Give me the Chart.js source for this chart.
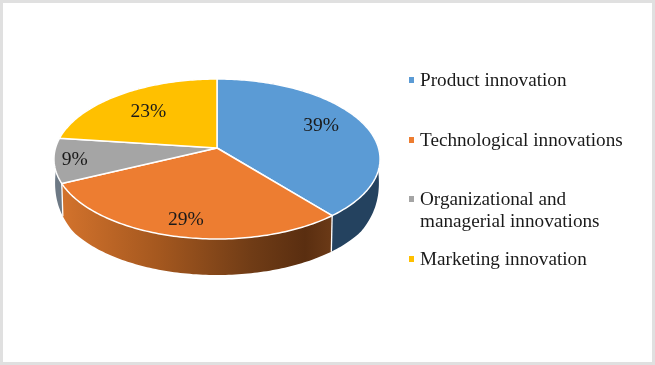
<!DOCTYPE html>
<html>
<head>
<meta charset="utf-8">
<script src="https://cdn.jsdelivr.net/npm/chart.js@4"></script>
<style>
  html, body { margin: 0; padding: 0; background: #fff; }
  canvas { display: block; filter: blur(0.5px); }
</style>
</head>
<body>
<canvas id="chart" width="655" height="365"></canvas>
<script>
const categories = ['Product innovation', 'Technological innovations', 'Organizational and managerial innovations', 'Marketing innovation'];
const legendLines = [['Product innovation'], ['Technological innovations'], ['Organizational and', 'managerial innovations'], ['Marketing innovation']];
const shares = [39, 29, 9, 23];
const sliceColors = ['#5b9bd5', '#ed7d31', '#a5a5a5', '#ffc000'];

// baseline of the first text line of each legend entry
const legendBaselines = [86, 146, 205, 265];
// label shift from the default spot inside the slice
const labelNudge = [[1, -4], [-4, 13], [-29, 3], [1, 2]];

// perspective of the tilted disc: apex, x radius, y terms, foreshortening
const CX = 217, CY = 148, AX = 161.5, AY = 58.14, TILT = -0.1375;

function project(angle, r) {
  const u = Math.cos(angle) * r, v = Math.sin(angle) * r;
  const w = 1 + TILT * v;
  return { x: CX + AX * u / w, y: (AY * v + CY) / w };
}

function dropPoint(p, angle) {
  // side wall gets shallower towards the left and right ends
  const v = Math.max(0, Math.sin(angle));
  const d = Math.min(36, 12 + 32 * Math.sqrt(v));
  return { x: CX + (p.x - CX) * 0.993, y: p.y + d };
}

function sideFill(ctx, i) {
  if (i === 1) {
    const g = ctx.createLinearGradient(63, 0, 332, 0);
    g.addColorStop(0, '#d2722c');
    g.addColorStop(0.35, '#a5581f');
    g.addColorStop(0.7, '#703c16');
    g.addColorStop(0.9, '#5a2e10');
    g.addColorStop(1, '#6b3a17');
    return g;
  }
  if (i === 0) return '#24425f';
  if (i === 2) return '#6d7985';
  return '#a88000';
}

const pie3d = {
  id: 'pie3d',
  beforeDraw(chart) {
    const ctx = chart.ctx;
    ctx.save();
    ctx.fillStyle = '#e0e0e0';
    ctx.fillRect(0, 0, 655, 365);
    ctx.fillStyle = '#fff';
    ctx.fillRect(3, 3, 649, 359);
    ctx.restore();
  },
  beforeDatasetDraw(chart) {
    const ctx = chart.ctx;
    const arcs = chart.getDatasetMeta(0).data;
    const step = Math.PI / 180;
    ctx.save();

    // side walls
    arcs.forEach((arc, i) => {
      const pts = [];
      for (let a = arc.startAngle; a < arc.endAngle; a += step) pts.push(a);
      pts.push(arc.endAngle);
      ctx.beginPath();
      pts.forEach((a, k) => {
        const p = project(a, 1);
        if (k === 0) ctx.moveTo(p.x, p.y); else ctx.lineTo(p.x, p.y);
      });
      pts.slice().reverse().forEach(a => {
        const b = dropPoint(project(a, 1), a);
        ctx.lineTo(b.x, b.y);
      });
      ctx.closePath();
      ctx.fillStyle = sideFill(ctx, i);
      ctx.fill();
    });

    // white seams on the visible walls
    ctx.strokeStyle = '#fff';
    ctx.lineWidth = 1.3;
    arcs.forEach(arc => {
      if (Math.sin(arc.endAngle) > 0.3) {
        const p = project(arc.endAngle, 1);
        const b = dropPoint(p, arc.endAngle);
        ctx.beginPath();
        ctx.moveTo(p.x, p.y);
        ctx.lineTo(b.x, b.y);
        ctx.stroke();
      }
    });

    // top faces
    arcs.forEach((arc, i) => {
      ctx.beginPath();
      ctx.moveTo(CX, CY);
      for (let a = arc.startAngle; a < arc.endAngle; a += step) {
        const p = project(a, 1);
        ctx.lineTo(p.x, p.y);
      }
      const e = project(arc.endAngle, 1);
      ctx.lineTo(e.x, e.y);
      ctx.closePath();
      ctx.fillStyle = sliceColors[i];
      ctx.fill();
      ctx.lineJoin = 'round';
      ctx.lineWidth = 1.5;
      ctx.strokeStyle = '#fff';
      ctx.stroke();
    });

    ctx.restore();
    return false;
  },
  afterDatasetsDraw(chart) {
    const ctx = chart.ctx;
    const arcs = chart.getDatasetMeta(0).data;
    ctx.save();

    // percent labels
    ctx.font = '19.5px "Liberation Serif"';
    ctx.fillStyle = '#1a1a1a';
    ctx.textAlign = 'center';
    ctx.textBaseline = 'middle';
    arcs.forEach((arc, i) => {
      const p = project((arc.startAngle + arc.endAngle) / 2, 0.7);
      ctx.fillText(shares[i] + '%', p.x + labelNudge[i][0], p.y + labelNudge[i][1]);
    });

    // legend
    ctx.font = '19.2px "Liberation Serif"';
    ctx.textAlign = 'left';
    ctx.textBaseline = 'alphabetic';
    legendLines.forEach((lines, i) => {
      const y = legendBaselines[i];
      ctx.fillStyle = sliceColors[i];
      ctx.fillRect(409, y - 9, 5, 6);
      ctx.fillStyle = '#1a1a1a';
      lines.forEach((line, k) => ctx.fillText(line, 420, y + k * 22));
    });
    ctx.restore();
  }
};

new Chart(document.getElementById('chart'), {
  type: 'pie',
  data: {
    labels: categories,
    datasets: [{ data: shares, backgroundColor: sliceColors }]
  },
  options: {
    responsive: false,
    animation: false,
    plugins: {
      legend: { display: false },
      tooltip: { enabled: false }
    }
  },
  plugins: [pie3d]
});
</script>
</body>
</html>
